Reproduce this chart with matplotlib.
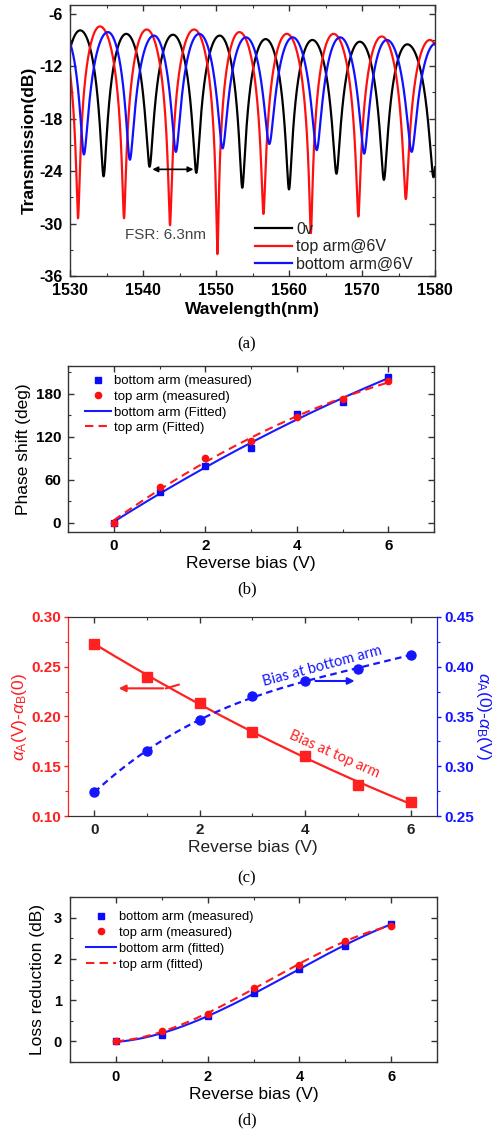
import numpy as np
import matplotlib
matplotlib.use('Agg')
import matplotlib.pyplot as plt
from matplotlib.ticker import MultipleLocator, FormatStrFormatter

plt.rcParams['font.family'] = ['Liberation Sans', 'DejaVu Sans']
plt.rcParams['mathtext.fontset'] = 'custom'
plt.rcParams['mathtext.rm'] = 'Liberation Sans'
plt.rcParams['mathtext.it'] = 'Liberation Sans:italic'
plt.rcParams['axes.unicode_minus'] = False

# ---------------- Panel (a) data: spectral extrema ----------------
black_dip_wl = [1528.2, 1534.6, 1540.9, 1547.3, 1553.6, 1560.0, 1566.5, 1573.0, 1579.8]
black_dip_db = [-24.0, -24.6, -23.5, -24.2, -25.9, -26.1, -24.3, -25.0, -24.7]
black_peak_wl = [1531.4, 1537.7, 1544.1, 1550.5, 1556.8, 1563.2, 1569.7, 1576.2, 1583.0]
black_peak_db = [-7.9, -8.3, -8.4, -8.5, -8.9, -9.0, -9.2, -9.5, -9.6]

red_dip_wl = [1531.1, 1537.4, 1543.7, 1550.2, 1556.5, 1563.0, 1569.5, 1576.0, 1582.5]
red_dip_db = [-29.4, -29.4, -30.2, -33.5, -28.9, -31.1, -29.2, -27.2, -28.0]
red_peak_wl = [1528.1, 1534.1, 1540.5, 1547.0, 1553.2, 1559.7, 1566.1, 1572.7, 1579.3]
red_peak_db = [-7.5, -7.45, -7.8, -7.8, -8.1, -8.3, -8.3, -8.6, -9.0]

blue_dip_wl = [1531.9, 1538.2, 1544.5, 1550.9, 1557.3, 1563.8, 1570.3, 1576.8]
blue_dip_db = [-22.1, -22.7, -21.8, -21.4, -20.9, -21.6, -22.0, -21.8]
blue_peak_wl = [1529.3, 1535.2, 1541.5, 1547.7, 1554.1, 1560.5, 1567.0, 1573.4, 1580.1]
blue_peak_db = [-8.6, -8.1, -8.5, -8.3, -8.7, -8.7, -8.7, -9.0, -9.4]

spectra_labels = ['0v', 'top arm@6V', 'bottom arm@6V']
fsr_text = 'FSR: 6.3nm'
fsr_from, fsr_to, fsr_level = 1540.9, 1547.3, -23.8

# ---------------- Panel (b) data ----------------
bias = [0, 1, 2, 3, 4, 5, 6]
phase_bottom = [0, 42.5, 79.5, 104.3, 152.0, 169.3, 203.4]
phase_top = [0, 49.6, 89.8, 113.6, 147.8, 173.5, 197.8]

# ---------------- Panel (c) data ----------------
alpha_top = [0.2733, 0.240, 0.214, 0.1843, 0.1603, 0.131, 0.1137]
alpha_bottom = [0.2743, 0.315, 0.3467, 0.3703, 0.3853, 0.3977, 0.4123]

# ---------------- Panel (d) data ----------------
loss_bottom = [0, 0.163, 0.626, 1.17, 1.76, 2.31, 2.85]
loss_top = [0, 0.244, 0.667, 1.30, 1.86, 2.44, 2.80]

legend_bd = ['bottom arm (measured)', 'top arm (measured)']


def mzi_curve(wl, dip_wl, dip_db, peak_wl, peak_db):
    """Interferometer line shape passing through the read extrema."""
    ext_wl = np.concatenate([dip_wl, peak_wl])
    ext_db = np.concatenate([dip_db, peak_db])
    is_dip = np.concatenate([np.ones(len(dip_wl), bool), np.zeros(len(peak_wl), bool)])
    order = np.argsort(ext_wl)
    out = np.full_like(wl, np.nan)
    for i in range(len(order) - 1):
        a, b = order[i], order[i + 1]
        m = (wl >= ext_wl[a]) & (wl <= ext_wl[b])
        t = (wl[m] - ext_wl[a]) / (ext_wl[b] - ext_wl[a])
        if is_dip[a]:
            d, p = a, b
            s = np.sin(t * np.pi / 2) ** 2
        else:
            d, p = b, a
            s = np.cos(t * np.pi / 2) ** 2
        lo = 10 ** (ext_db[d] / 10)
        hi = 10 ** (ext_db[p] / 10)
        out[m] = 10 * np.log10(lo + (hi - lo) * s)
    return out


def style_ticks(ax, size, pad=5, bold=True, color='black'):
    ax.tick_params(which='both', direction='in', top=True, right=True, colors='#333333', pad=pad)
    ax.tick_params(which='major', length=4, width=1)
    ax.tick_params(which='minor', length=2.5, width=0.8)
    for lab in ax.get_xticklabels() + ax.get_yticklabels():
        lab.set_fontsize(size)
        if bold:
            lab.set_fontweight('bold')
        lab.set_color(color)
    for sp in ax.spines.values():
        sp.set_color('#333333')
        sp.set_linewidth(1.0)


fig = plt.figure(figsize=(4.95, 11.31), dpi=100)
H = 1131.0
W = 495.0


def add_axes(x0, y0, x1, y1):
    return fig.add_axes([x0 / W, 1 - y1 / H, (x1 - x0) / W, (y1 - y0) / H])


# ================= (a) =================
ax = add_axes(70, 5, 435, 276)
wl = np.linspace(1530, 1580, 4000)
ax.plot(wl, mzi_curve(wl, black_dip_wl, black_dip_db, black_peak_wl, black_peak_db),
        color='black', lw=1.6, label=spectra_labels[0])
ax.plot(wl, mzi_curve(wl, red_dip_wl, red_dip_db, red_peak_wl, red_peak_db),
        color='#ff1010', lw=1.6, label=spectra_labels[1])
ax.plot(wl, mzi_curve(wl, blue_dip_wl, blue_dip_db, blue_peak_wl, blue_peak_db),
        color='#1010ff', lw=1.6, label=spectra_labels[2])
ax.set_xlim(1530, 1580)
ax.set_ylim(-36, -5)
ax.xaxis.set_major_locator(MultipleLocator(10))
ax.xaxis.set_minor_locator(MultipleLocator(5))
ax.yaxis.set_major_locator(MultipleLocator(6))
ax.yaxis.set_minor_locator(MultipleLocator(3))
ax.set_xticks([1530, 1540, 1550, 1560, 1570, 1580])
ax.set_yticks([-6, -12, -18, -24, -30, -36])
style_ticks(ax, 11.5, pad=5)
ax.set_xlabel('Wavelength(nm)', fontsize=12.5, fontweight='bold', labelpad=3)
ax.set_ylabel('Transmission(dB)', fontsize=12.5, fontweight='bold', labelpad=2)
ax.annotate('', xy=(fsr_from, fsr_level), xytext=(fsr_to, fsr_level),
            arrowprops=dict(arrowstyle='<|-|>', color='black', lw=1.2, mutation_scale=8))
ax.text(1537.5, -31.3, fsr_text, fontsize=11, color='#444444', ha='left', va='center')
leg = ax.legend(loc='lower left', bbox_to_anchor=(0.48, -0.02), frameon=False, fontsize=11.5,
                handlelength=2.3, handletextpad=0.3, labelspacing=0.15, borderaxespad=0.2)
for t in leg.get_texts():
    t.set_color('#222222')
fig.text(247 / W, 1 - 344 / H, '(a)', fontsize=12, family=['Liberation Serif'], ha='center', va='center')

# ================= (b) =================
ax = add_axes(68, 366, 434, 532)
b = np.array(bias, float)
xx = np.linspace(0, 6, 200)
ax.plot(bias, phase_bottom, 's', color='#0a0aff', ms=4, label=legend_bd[0], zorder=4)
ax.plot(bias, phase_top, 'o', color='#ff1010', ms=4.5, label=legend_bd[1], zorder=4)
ax.plot(xx, np.polyval(np.polyfit(b, phase_bottom, 2), xx), '-', color='#1a1aff', lw=1.5,
        label='bottom arm (Fitted)')
ax.plot(xx, np.polyval(np.polyfit(b, phase_top, 2), xx), '--', color='#ff1a1a', lw=1.5,
        dashes=(4, 2.5), label='top arm (Fitted)')
ax.set_xlim(-1, 7)
ax.set_ylim(-13, 219)
ax.xaxis.set_major_locator(MultipleLocator(2))
ax.xaxis.set_minor_locator(MultipleLocator(1))
ax.yaxis.set_major_locator(MultipleLocator(60))
ax.yaxis.set_minor_locator(MultipleLocator(30))
style_ticks(ax, 11, pad=5)
ax.set_xlabel('Reverse bias (V)', fontsize=12.5, labelpad=2)
ax.set_ylabel('Phase shift (deg)', fontsize=12.5, labelpad=3)
ax.legend(loc='upper left', frameon=False, fontsize=9.5, handlelength=2.0, handletextpad=0.2,
          labelspacing=0.25, borderaxespad=0.3, bbox_to_anchor=(0.02, 1.0))
fig.text(247 / W, 1 - 589 / H, '(b)', fontsize=12, family=['Liberation Serif'], ha='center', va='center')

# ================= (c) =================
ax = add_axes(68, 617, 437, 816)
ax2 = ax.twinx()
red_c = '#ff2020'
blue_c = '#1515ff'
ax.plot(xx, np.polyval(np.polyfit(b, alpha_top, 2), xx), '-', color=red_c, lw=1.6)
ax.plot(bias, alpha_top, 's', color=red_c, ms=6.5)
ax2.plot(xx, np.polyval(np.polyfit(b, alpha_bottom, 3), xx), '--', color=blue_c, lw=1.6,
         dashes=(3, 2))
ax2.plot(bias, alpha_bottom, 'o', color=blue_c, ms=6.5)
ax.set_xlim(-0.5, 6.5)
ax.set_ylim(0.10, 0.30)
ax2.set_ylim(0.25, 0.45)
ax.xaxis.set_major_locator(MultipleLocator(2))
ax.xaxis.set_minor_locator(MultipleLocator(1))
ax.yaxis.set_major_locator(MultipleLocator(0.05))
ax.yaxis.set_minor_locator(MultipleLocator(0.025))
ax2.yaxis.set_major_locator(MultipleLocator(0.05))
ax2.yaxis.set_minor_locator(MultipleLocator(0.025))
ax.yaxis.set_major_formatter(FormatStrFormatter('%.2f'))
ax2.yaxis.set_major_formatter(FormatStrFormatter('%.2f'))
ax.tick_params(which='both', direction='in', top=True, right=False)
ax.tick_params(axis='x', which='both', pad=5, colors='#333333')
ax.tick_params(which='major', length=4, width=1)
ax.tick_params(which='minor', length=2.5, width=0.8)
ax.tick_params(axis='y', which='both', direction='out', colors=red_c, pad=2)
ax.tick_params(axis='y', which='major', length=3)
ax.tick_params(axis='y', which='minor', length=2)
ax2.tick_params(which='both', direction='out', colors=blue_c, pad=2)
ax2.tick_params(which='major', length=3, width=1)
ax2.tick_params(which='minor', length=2, width=0.8)
for lab in ax.get_xticklabels():
    lab.set_fontsize(11); lab.set_fontweight('bold'); lab.set_color('#222222')
for lab in ax.get_yticklabels():
    lab.set_fontsize(11); lab.set_fontweight('bold'); lab.set_color(red_c)
for lab in ax2.get_yticklabels():
    lab.set_fontsize(11); lab.set_fontweight('bold'); lab.set_color(blue_c)
for a_ in (ax, ax2):
    a_.spines['top'].set_color('#333333')
    a_.spines['bottom'].set_color('#333333')
    a_.spines['left'].set_color(red_c)
    a_.spines['right'].set_color(blue_c)
ax.set_xlabel('Reverse bias (V)', fontsize=12.5, labelpad=2, color='#222222')
ax.set_ylabel(r'$\alpha_{\rm A}$(V)-$\alpha_{\rm B}$(0)', fontsize=12.5, color=red_c, labelpad=2)
ax2.set_ylabel(r'$\alpha_{\rm A}$(0)-$\alpha_{\rm B}$(V)', fontsize=12.5, color=blue_c,
               rotation=270, labelpad=14)
ax.annotate('', xy=(0.41, 0.2283), xytext=(1.36, 0.2283),
            arrowprops=dict(arrowstyle='-|>', color=red_c, lw=1.5, mutation_scale=10))
ax.plot([1.36, 1.6], [0.2283, 0.232], color=red_c, lw=1.5)
ax2.annotate('', xy=(4.99, 0.3857), xytext=(4.14, 0.3857),
             arrowprops=dict(arrowstyle='-|>', color=blue_c, lw=1.5, mutation_scale=10))
ax2.text(4.33, 0.4005, 'Bias at bottom arm', color=blue_c, fontsize=10.5, rotation=15,
         ha='center', va='center', family=['Lato', 'DejaVu Sans'])
ax.text(4.55, 0.162, 'Bias at top arm', color=red_c, fontsize=10.5, rotation=-24,
        ha='center', va='center', family=['Lato', 'DejaVu Sans'])
fig.text(247 / W, 1 - 878 / H, '(c)', fontsize=12, family=['Liberation Serif'], ha='center', va='center')

# ================= (d) =================
ax = add_axes(70, 897, 437, 1062)
ax.plot(bias, loss_bottom, 's', color='#0a0aff', ms=4, label=legend_bd[0], zorder=4)
ax.plot(bias, loss_top, 'o', color='#ff1010', ms=4.5, label=legend_bd[1], zorder=4)
ax.plot(xx, np.polyval(np.polyfit(b, loss_bottom, 3), xx), '-', color='#1a1aff', lw=1.5,
        label='bottom arm (fitted)')
ax.plot(xx, np.polyval(np.polyfit(b, loss_top, 3), xx), '--', color='#ff1a1a', lw=1.5,
        dashes=(4, 2.5), label='top arm (fitted)')
ax.set_xlim(-1, 7)
ax.set_ylim(-0.5, 3.5)
ax.xaxis.set_major_locator(MultipleLocator(2))
ax.xaxis.set_minor_locator(MultipleLocator(1))
ax.yaxis.set_major_locator(MultipleLocator(1))
ax.yaxis.set_minor_locator(MultipleLocator(0.5))
style_ticks(ax, 10.5, pad=6)
ax.set_xlabel('Reverse bias (V)', fontsize=12.5, labelpad=2)
ax.set_ylabel('Loss reduction (dB)', fontsize=12.5, labelpad=6)
ax.legend(loc='upper left', frameon=False, fontsize=9.3, handlelength=2.3, handletextpad=0.2,
          labelspacing=0.3, borderaxespad=0.3, bbox_to_anchor=(0.02, 0.97))
fig.text(247 / W, 1 - 1120 / H, '(d)', fontsize=12, family=['Liberation Serif'], ha='center', va='center')

fig.savefig('out.png', dpi=100, facecolor='white')
